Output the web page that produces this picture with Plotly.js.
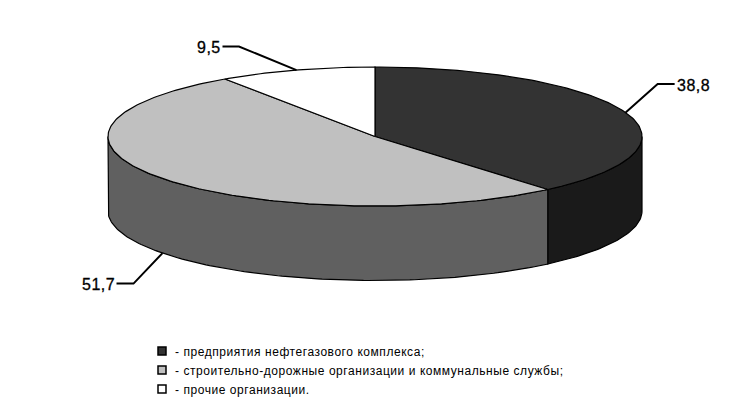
<!DOCTYPE html>
<html><head><meta charset="utf-8">
<script src="https://cdn.plot.ly/plotly-3.0.1.min.js"></script>
<style>html,body{margin:0;padding:0;background:#fff}#c{width:746px;height:411px}
.legendtext{letter-spacing:.55px;transform:translateX(-7px)}
.annotation-text{letter-spacing:.5px;stroke:#000;stroke-width:.3px}
</style>
</head><body><div id="c"></div>
<script>
const categories=["- предприятия нефтегазового комплекса;","- строительно-дорожные организации и коммунальные службы;","- прочие организации."];
const values=[38.8,51.7,9.5];
const valueLabels=["38,8","51,7","9,5"];
const topColors=["#333333","#c0c0c0","#ffffff"];
const wallColors=["#1a1a1a","#606060","#808080"];
const cx=375,cy=136.5,rx=267,ry=69.5,depth=74.5;
const total=values.reduce((a,b)=>a+b,0);
const pt=(deg,dy=0)=>[cx+rx*Math.sin(deg*Math.PI/180),cy-ry*Math.cos(deg*Math.PI/180)+dy];
function arc(a,b,dy=0){const out=[];const n=Math.max(2,Math.ceil(Math.abs(b-a)));for(let i=0;i<=n;i++)out.push(pt(a+(b-a)*i/n,dy));return out;}
function poly(points,fill){return {type:'scatter',mode:'lines',x:points.map(p=>p[0]),y:points.map(p=>p[1]),fill:'toself',fillcolor:fill,line:{color:'#000',width:1.2},hoverinfo:'skip',showlegend:false};}
const traces=[];
let acc=0;const spans=values.map(v=>{const s=[acc,acc+v/total*360];acc=s[1];return s;});
spans.forEach((s,i)=>{const a=Math.max(s[0],90),b=Math.min(s[1],270);if(b>a){traces.push(poly([...arc(a,b),...arc(b,a,depth),pt(a)],wallColors[i]));}});
spans.forEach((s,i)=>{traces.push(poly([[cx,cy],...arc(s[0],s[1]),[cx,cy]],topColors[i]));});
const leaderOffsets=[[[32,-28.5],[49,-28.5]],[[-29,30.5],[-46,30.5]],[[-57.5,-23.5],[-74,-23.5]]];
const leaderDrop=[0,depth,0];
const labelShift=[0,0,1];
const annotations=[];
spans.forEach((s,i)=>{const p=pt((s[0]+s[1])/2,leaderDrop[i]);const o=leaderOffsets[i];
 const xs=[p[0],p[0]+o[0][0],p[0]+o[1][0]],ys=[p[1],p[1]+o[0][1],p[1]+o[1][1]];
 traces.push({type:'scatter',mode:'lines',x:xs,y:ys,line:{color:'#000',width:2},hoverinfo:'skip',showlegend:false});
 annotations.push({x:xs[2],y:ys[2]+1,xshift:labelShift[i],xref:'x',yref:'y',text:valueLabels[i],showarrow:false,xanchor:i==0?'left':'right',yanchor:'middle',font:{family:'"Liberation Sans",Arial,sans-serif',size:16,color:'#000'}});
});
categories.forEach((c,i)=>{traces.push({type:'scatter',mode:'markers',x:[null],y:[null],name:c,legendgroup:'g'+i,marker:{symbol:'square',size:8,color:topColors[i],line:{color:'#000',width:1.5}}});});
Plotly.newPlot('c',traces,{
 width:746,height:411,margin:{l:0,r:0,t:0,b:0},paper_bgcolor:'#fff',plot_bgcolor:'#fff',
 xaxis:{range:[0,746],visible:false,fixedrange:true},
 yaxis:{range:[411,0],visible:false,fixedrange:true},
 annotations,
 showlegend:true,
 legend:{x:142/746,y:1-336.5/411,xanchor:'left',yanchor:'top',bgcolor:'rgba(0,0,0,0)',tracegroupgap:0,font:{family:'"Liberation Sans",Arial,sans-serif',size:12,color:'#000'}}
},{displayModeBar:false,staticPlot:true});
</script></body></html>
